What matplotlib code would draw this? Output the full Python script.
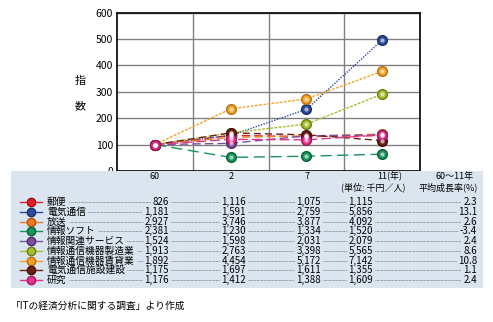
import matplotlib
matplotlib.use('Agg')
import matplotlib.pyplot as plt
from matplotlib.patches import Rectangle
from matplotlib.lines import Line2D

plt.rcParams['font.family'] = ['Noto Sans CJK JP', 'DejaVu Sans']

# データ（単位：千円／人）
years = ['60', '2', '7', '11']
industries = ['郵便', '電気通信', '放送', '情報ソフト', '情報関連サービス',
              '情報通信機器製造業', '情報通信機器賃貸業', '電気通信施設建設', '研究']
values = [
    [826, 1116, 1075, 1115],
    [1181, 1591, 2759, 5856],
    [2927, 3746, 3877, 4092],
    [2381, 1230, 1334, 1520],
    [1524, 1598, 2031, 2079],
    [1913, 2763, 3398, 5565],
    [1892, 4454, 5172, 7142],
    [1175, 1697, 1611, 1355],
    [1176, 1412, 1388, 1609],
]
growth = ['2.3', '13.1', '2.6', '-3.4', '2.4', '8.6', '10.8', '1.1', '2.4']
colors = ['#e32028', '#2c4c9c', '#f07a22', '#16955c', '#7e4f9e',
          '#a6be2c', '#f2a325', '#6e2018', '#e2348c']
edges = ['#9a1015', '#1a2e66', '#b0500e', '#0c6038', '#4e2c6a',
         '#6c7e14', '#b87010', '#401008', '#a01860']
styles = [(0, (6, 3)), (0, (1, 1)), (0, (6, 3)), (0, (8, 4)), (0, (6, 3)),
          (0, (2, 1)), (0, (2, 1)), (0, (5, 3)), (0, (7, 3))]

W, H = 493, 322
fig = plt.figure(figsize=(W / 100, H / 100), dpi=100)


def fx(x):
    return x / W


def fy(y):
    return 1 - y / H


# 表の背景
fig.patches.append(Rectangle((fx(11), fy(288)), fx(483) - fx(11), fy(171) - fy(288),
                             transform=fig.transFigure, facecolor='#dae5f0',
                             edgecolor='none', zorder=0))

ax = fig.add_axes([fx(117), fy(171), fx(420) - fx(117), fy(12.7) - fy(171)])
ax.set_facecolor('white')
ax.set_xlim(-0.5, 3.5)
ax.set_ylim(0, 600)
ax.set_yticks(range(0, 601, 100))
ax.set_xticks([0.5, 1.5, 2.5])
ax.tick_params(axis='x', length=0, labelbottom=False)
ax.tick_params(axis='y', length=0, labelsize=7.5, pad=3)
ax.grid(True, color='#808080', linewidth=1)
ax.set_axisbelow(True)
for s in ax.spines.values():
    s.set_linewidth(1.2)

xs = range(len(years))
for i, row in enumerate(values):
    idx = [v / row[0] * 100 for v in row]
    ax.plot(xs, idx, linestyle=styles[i], color=colors[i], linewidth=1, zorder=3)
    ax.plot(xs, idx, linestyle='none', marker='o', markersize=7,
            markerfacecolor=colors[i], markeredgecolor=edges[i], markeredgewidth=1, zorder=4)
    ax.plot(xs, idx, linestyle='none', marker='o', markersize=3,
            markerfacecolor='white', markeredgecolor='none', alpha=0.6, zorder=5)

fig.text(fx(80), fy(81), '指', fontsize=8, ha='center', va='center')
fig.text(fx(80), fy(106), '数', fontsize=8, ha='center', va='center')

# 表のヘッダー
fs = 7
hs = 6.5
for x, t in zip([155, 231, 307], years[:3]):
    fig.text(fx(x), fy(176.5), t, fontsize=hs, ha='center', va='center')
fig.text(fx(390), fy(176.5), '11(年)', fontsize=hs, ha='center', va='center')
fig.text(fx(455), fy(176.5), '60～11年', fontsize=hs, ha='center', va='center')
fig.text(fx(373), fy(187.5), '(単位: 千円／人)', fontsize=hs, ha='center', va='center')
fig.text(fx(448), fy(187.5), '平均成長率(%)', fontsize=hs, ha='center', va='center')

renderer = fig.canvas.get_renderer()
col_right = [169, 246, 321, 373, 477]
for i, name in enumerate(industries):
    y = 202.3 + 9.7 * i
    fig.add_artist(Line2D([fx(20), fx(42)], [fy(y), fy(y)], color=colors[i], linewidth=1))
    fig.add_artist(Line2D([fx(31)], [fy(y)], marker='o', markersize=6,
                          markerfacecolor=colors[i], markeredgecolor=edges[i]))
    lab = fig.text(fx(47), fy(y), name, fontsize=fs, ha='left', va='center')
    ends = [lab.get_window_extent(renderer).x1]
    starts = []
    cells = ['{:,}'.format(v) for v in values[i]] + [growth[i]]
    for xr, c in zip(col_right, cells):
        t = fig.text(fx(xr), fy(y), c, fontsize=fs, ha='right', va='center')
        bb = t.get_window_extent(renderer)
        starts.append(bb.x0)
        ends.append(bb.x1)
    for a, b in zip(ends[:-1], starts):
        fig.add_artist(Line2D([(a + 2) / W, (b - 2) / W], [fy(y), fy(y)], color='#555555',
                              linewidth=0.5, linestyle=(0, (1, 1))))

fig.text(fx(11), fy(306), '「ITの経済分析に関する調査」より作成', fontsize=fs,
         ha='left', va='center')

fig.savefig('out.png', dpi=100)
